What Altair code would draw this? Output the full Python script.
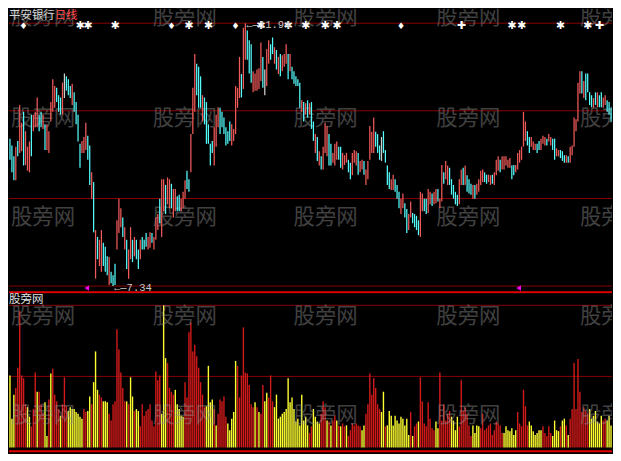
import altair as alt
import pandas as pd

stock_name = "平安银行"
period_name = "日线"
indicator_name = "股旁网"
watermark_text = "股旁网"

# daily candles: high / low prices, direction (r = up, c = down, w = flat)
high = [
    9.92, 9.80, 9.61, 9.78, 9.88, 10.51, 10.20, 10.39, 10.05, 9.78,
    9.87, 10.34, 10.34, 10.39, 10.64, 10.34, 10.39, 10.34, 10.17, 10.17,
    10.05, 10.56, 10.96, 10.84, 10.81, 10.68, 10.64, 10.90, 11.06, 11.01,
    10.96, 10.84, 10.88, 10.73, 10.56, 10.34, 9.83, 9.88, 9.95, 10.20,
    9.97, 9.80, 9.33, 9.16, 8.32, 8.20, 8.15, 8.32, 8.10, 8.03,
    7.86, 7.85, 7.59, 7.53, 7.73, 8.49, 8.87, 8.70, 8.54, 8.37,
    8.15, 7.98, 8.37, 8.15, 8.20, 8.15, 7.98, 8.15, 8.20, 8.15,
    8.27, 8.20, 8.28, 8.27, 8.20, 8.54, 8.60, 8.87, 9.21, 9.21,
    9.11, 9.24, 9.21, 9.13, 9.04, 9.04, 8.91, 8.94, 8.87, 8.99,
    9.19, 9.36, 9.21, 10.00, 10.81, 11.40, 11.23, 11.18, 11.01, 10.68,
    10.64, 10.56, 10.17, 9.83, 9.88, 10.12, 10.34, 10.47, 10.46, 10.39,
    10.29, 10.12, 10.05, 10.22, 10.17, 10.09, 10.84, 10.81, 11.35, 11.05,
    11.86, 11.94, 11.81, 11.64, 11.57, 11.10, 11.06, 11.13, 11.15, 11.60,
    11.35, 11.13, 11.49, 11.64, 11.57, 11.69, 11.52, 11.47, 11.35, 11.40,
    11.38, 11.40, 11.57, 11.40, 11.40, 11.18, 11.10, 11.01, 10.96, 10.90,
    10.59, 10.56, 10.54, 10.59, 10.54, 10.56, 10.22, 10.00, 9.95, 9.70,
    9.61, 9.78, 10.20, 10.14, 10.00, 9.83, 9.67, 9.83, 9.87, 9.78,
    9.78, 9.67, 9.63, 9.67, 9.55, 9.50, 9.67, 9.72, 9.70, 9.67,
    9.53, 9.55, 9.53, 9.38, 9.53, 10.14, 10.04, 10.29, 10.04, 10.00,
    9.80, 9.95, 10.05, 9.72, 9.45, 9.33, 9.21, 9.29, 9.21, 9.11,
    8.99, 8.87, 8.96, 8.79, 8.69, 8.60, 8.82, 8.62, 8.60, 8.57,
    8.49, 8.99, 8.96, 8.87, 8.87, 9.04, 8.99, 8.96, 8.99, 9.04,
    9.04, 8.87, 9.46, 9.33, 9.53, 9.45, 9.41, 9.21, 9.11, 8.99,
    8.94, 9.21, 9.38, 9.41, 9.45, 9.28, 9.21, 9.13, 9.11, 9.11,
    9.13, 9.21, 9.36, 9.38, 9.33, 9.29, 9.29, 9.28, 9.29, 9.33,
    9.55, 9.61, 9.55, 9.61, 9.61, 9.61, 9.55, 9.58, 9.45, 9.46,
    9.46, 9.67, 9.72, 9.78, 10.39, 10.22, 10.05, 9.95, 9.95, 9.87,
    9.83, 9.83, 9.88, 9.92, 9.97, 9.95, 9.92, 10.00, 9.95, 9.92,
    9.92, 9.75, 9.72, 9.72, 9.70, 9.63, 9.63, 9.61, 9.78, 9.80,
    10.29, 10.26, 10.90, 11.10, 11.10, 10.93, 11.06, 11.06, 10.73, 10.68,
    10.63, 10.73, 10.73, 10.68, 10.73, 10.64, 10.68, 10.59, 10.56, 10.46,
]
low = [
    9.55, 9.33, 9.19, 9.19, 9.61, 9.67, 9.70, 9.45, 9.46, 9.36,
    9.33, 9.61, 10.05, 10.12, 10.12, 10.05, 10.12, 10.09, 9.72, 9.72,
    9.67, 10.22, 10.39, 10.46, 10.56, 10.39, 10.34, 10.34, 10.63, 10.76,
    10.68, 10.63, 10.51, 10.39, 10.17, 9.87, 9.41, 9.67, 9.67, 9.72,
    9.55, 9.11, 8.87, 8.28, 7.47, 7.81, 7.69, 7.59, 7.69, 7.59,
    7.53, 7.36, 7.39, 7.34, 7.36, 7.98, 8.27, 8.37, 8.20, 7.98,
    7.64, 7.47, 7.81, 7.76, 7.86, 7.81, 7.64, 7.81, 7.98, 7.98,
    8.03, 7.98, 8.01, 8.10, 7.98, 8.15, 8.32, 8.44, 8.20, 8.65,
    8.60, 8.77, 8.70, 8.70, 8.54, 8.65, 8.65, 8.65, 8.65, 8.70,
    8.87, 9.04, 8.99, 9.33, 10.00, 10.39, 10.68, 10.46, 10.46, 10.22,
    10.17, 9.83, 9.83, 9.45, 9.67, 9.45, 9.78, 10.12, 10.00, 10.12,
    10.00, 9.80, 9.83, 9.88, 9.80, 9.88, 10.00, 10.46, 10.63, 10.64,
    10.79, 11.30, 11.30, 11.06, 10.90, 10.73, 10.76, 10.76, 10.79, 10.93,
    10.81, 10.68, 10.84, 11.23, 11.30, 11.40, 11.23, 11.13, 11.05, 11.01,
    11.10, 11.18, 11.23, 10.96, 11.10, 10.96, 10.88, 10.84, 10.84, 10.46,
    10.39, 10.22, 10.34, 10.29, 10.34, 10.09, 9.88, 9.67, 9.53, 9.45,
    9.38, 9.38, 9.67, 9.61, 9.45, 9.45, 9.50, 9.45, 9.55, 9.55,
    9.41, 9.38, 9.46, 9.50, 9.33, 9.21, 9.28, 9.50, 9.45, 9.29,
    9.33, 9.38, 9.29, 9.11, 9.21, 9.55, 9.67, 9.67, 9.78, 9.67,
    9.55, 9.53, 9.67, 9.50, 9.11, 9.04, 9.02, 9.02, 8.99, 8.87,
    8.70, 8.60, 8.70, 8.54, 8.27, 8.32, 8.54, 8.44, 8.37, 8.32,
    8.23, 8.20, 8.65, 8.65, 8.60, 8.62, 8.77, 8.74, 8.77, 8.79,
    8.82, 8.70, 8.82, 9.13, 9.21, 9.11, 9.11, 8.94, 8.87, 8.77,
    8.74, 8.77, 9.11, 9.11, 9.11, 8.99, 8.96, 8.94, 8.87, 8.87,
    8.94, 8.99, 9.11, 9.16, 9.16, 9.13, 9.16, 9.11, 9.13, 9.11,
    9.28, 9.36, 9.33, 9.38, 9.38, 9.45, 9.41, 9.41, 9.21, 9.28,
    9.33, 9.38, 9.50, 9.55, 9.78, 9.88, 9.80, 9.67, 9.78, 9.72,
    9.72, 9.67, 9.72, 9.72, 9.83, 9.80, 9.80, 9.87, 9.80, 9.72,
    9.55, 9.61, 9.61, 9.58, 9.53, 9.50, 9.50, 9.50, 9.50, 9.63,
    9.78, 10.05, 10.22, 10.71, 10.71, 10.63, 10.59, 10.73, 10.51, 10.47,
    10.46, 10.51, 10.47, 10.47, 10.47, 10.46, 10.51, 10.39, 10.34, 10.22,
]
candle_dir = list(
    "cccrcrrcrr" "rcrrrccrcr" "rrrrcccrwc" "ccrccccrrr" "ccrcrcrrcc"
    "crcccrrrcr" "crrcrccrcc" "crrcrrrcrr" "crrcrrccrr" "rccrrrcccr"
    "cccccrrrcc" "ccccrrrrrc" "rrcccrrrrr" "cwrrccrcrc" "rrrcrccccc"
    "rcrcrccrcr" "crrrccrrrc" "crrrccrrrc" "rrcrrrrrcc" "cwccccrrcc"
    "crrccrrccc" "crrccrrcrr" "crrcrrcccc" "crrcrcccrc" "rrrrccrrcr"
    "rrcrrrrrcc" "rrrrrrccrr" "rccrrrcrrc" "crrcccrcrr" "rrrrcrcccc"
    "rcrccrrccc"
)

# indicator volume bars and their type (r = red, y = yellow)
volume = [
    75, 30, 55, 62, 83, 142, 75, 72, 45, 42,
    32, 22, 40, 78, 58, 58, 45, 35, 47, 12,
    50, 77, 82, 55, 48, 40, 33, 45, 73, 43,
    38, 42, 40, 40, 37, 35, 32, 30, 40, 37,
    38, 53, 45, 68, 100, 60, 55, 52, 48, 48,
    47, 35, 28, 45, 48, 123, 102, 78, 62, 48,
    48, 45, 73, 53, 38, 40, 38, 22, 45, 33,
    38, 40, 45, 28, 22, 79, 70, 75, 35, 148,
    93, 88, 62, 58, 55, 60, 45, 40, 33, 32,
    68, 52, 120, 130, 100, 107, 95, 83, 68, 55,
    42, 43, 85, 47, 50, 40, 23, 35, 50, 48,
    53, 32, 25, 18, 30, 37, 90, 85, 52, 75,
    125, 78, 77, 65, 45, 42, 47, 42, 37, 35,
    65, 48, 57, 52, 75, 48, 42, 55, 30, 32,
    35, 37, 40, 72, 47, 52, 40, 27, 30, 23,
    55, 28, 32, 23, 15, 22, 40, 32, 27, 25,
    35, 48, 42, 28, 27, 23, 28, 33, 28, 23,
    22, 25, 22, 23, 12, 18, 25, 23, 25, 23,
    22, 18, 23, 35, 45, 77, 55, 72, 62, 45,
    40, 37, 58, 22, 23, 38, 33, 23, 33, 28,
    25, 32, 30, 23, 30, 13, 37, 12, 22, 25,
    27, 73, 48, 25, 22, 47, 30, 20, 18, 27,
    20, 78, 28, 45, 28, 35, 38, 32, 28, 18,
    32, 22, 70, 38, 42, 35, 23, 12, 23, 15,
    23, 22, 20, 35, 18, 20, 23, 25, 13, 18,
    27, 25, 23, 15, 15, 22, 18, 17, 20, 13,
    18, 37, 25, 22, 60, 43, 23, 27, 23, 17,
    13, 15, 18, 18, 22, 15, 12, 22, 15, 12,
    28, 18, 17, 22, 28, 30, 23, 13, 30, 40,
    88, 40, 92, 58, 37, 42, 38, 35, 40, 30,
    33, 38, 27, 25, 33, 28, 30, 28, 33, 23,
]
vol_type = list(
    "yyyrrrrrry" "yrrryrrryy" "ryrrrryrrr" "yyyyyyyyrr" "yyryyyrryy"
    "yrrrrrrrrr" "yryyryyrrr" "rrrrrrrryy" "yrrrryyyyy" "rrrrrrrrrr"
    "ryyyyryrrr" "rryyyyyrrr" "rrrrrryryr" "ryyrrryyyy" "yyyyyyyyyy"
    "yyyyrryyyy" "rrryryrryr" "yrryrrrrrr" "ryyrrrrrrr" "ryyryyyyyy"
    "yyyyyyryrr" "yrrrrrrrry" "yrrrrrryyy" "yrrrrrrryy" "yyrrrrrrrr"
    "rrrryyyyyy" "yrrrrrryyy" "yyyyrrrrry" "yyyryyryrr" "rrrrrrrryy"
    "yyyyyrryyy"
)

# signal row along the top
signal_bar = [7, 36, 40, 54, 83, 92, 102, 116, 129, 143, 152, 162, 168, 201, 232, 258, 263, 283, 297, 303]
signal_kind = list("d***d**d*****d+****+")

peak_bar, peak_price = 121, 11.94
trough_bar, trough_price = 53, 7.34
marker_bar = [39.5, 261.5]
marker_price = 7.305
grid_prices = [7.34, 8.873, 10.407, 11.94]
divider_price = 7.234
vol_grid = [74, 148]
vol_floor = -4

N = len(high)
W, HP, HV = 605, 286, 159
SX, SY = 605 / 621, 445 / 461

kdf = pd.DataFrame({"i": list(range(N)), "high": high, "low": low, "dir": candle_dir})
vdf = pd.DataFrame({"i": list(range(N)), "vol": volume, "base": [0] * N, "vt": vol_type})
sdf = pd.DataFrame({"i": signal_bar, "k": signal_kind,
                    "g": [{"*": "✱", "d": "♦", "+": "✚"}[k] for k in signal_kind]})

xs = alt.Scale(domain=[-0.5, N - 0.5])
ys = alt.Scale(domain=[7.205, 12.193])
vs = alt.Scale(domain=[-5, 160])
X = alt.X("i:Q", scale=xs, axis=None)

WM_COLS = [2, 148, 293, 440, 588]

# ---------------- price panel ----------------
p_layers = []
p_layers.append(alt.Chart(pd.DataFrame({"p": grid_prices})).mark_rule(color="#8a0000", strokeWidth=1)
                .encode(y=alt.Y("p:Q", scale=ys, axis=None)))
p_layers.append(alt.Chart(pd.DataFrame({"p": [divider_price]})).mark_rule(color="#e00000", strokeWidth=2)
                .encode(y=alt.Y("p:Q", scale=ys, axis=None)))

for col in range(5):
    for row in range(3):
        p_layers.append(alt.Chart(pd.DataFrame({"t": [watermark_text]})).mark_text(
            align="left", baseline="middle", fontSize=21.5, font="Noto Sans CJK SC",
            color="#9a9a9a", opacity=0.42, clip=True)
            .encode(x=alt.value(WM_COLS[col] * SX),
                    y=alt.value([10, 115, 218][row] * SY), text="t:N"))

kcolors = {"r": "#f25a5a", "c": "#54fcfc", "w": "#d0d0d0"}
for k, c in kcolors.items():
    p_layers.append(alt.Chart(kdf).transform_filter(alt.datum.dir == k)
                    .mark_rule(color=c, strokeWidth=1.25)
                    .encode(x=X, y=alt.Y("low:Q", scale=ys, axis=None), y2="high:Q"))

glyph_size = {"*": 11, "d": 9, "+": 11}
for k, s in glyph_size.items():
    p_layers.append(alt.Chart(sdf).transform_filter(alt.datum.k == k)
                    .mark_text(color="white", fontSize=s, font="DejaVu Sans", baseline="middle")
                    .encode(x=X, y=alt.value(18 * SY), text="g:N"))

ldf = pd.DataFrame({"i": [peak_bar, trough_bar], "p": [peak_price, trough_price],
                    "t": ["←—" + f"{peak_price:.2f}", "←—" + f"{trough_price:.2f}"]})
p_layers.append(alt.Chart(ldf).mark_text(align="left", baseline="middle", dx=1, dy=2,
                                         fontSize=10.5, font="Liberation Mono", color="#c8c8c8")
                .encode(x=X, y=alt.Y("p:Q", scale=ys, axis=None), text="t:N"))

p_layers.append(alt.Chart(pd.DataFrame({"i": marker_bar, "p": [marker_price] * 2}))
                .mark_point(shape="triangle-left", filled=True, color="#ff00ff", size=28, opacity=1)
                .encode(x=X, y=alt.Y("p:Q", scale=ys, axis=None)))

p_layers.append(alt.Chart(pd.DataFrame({"t": [stock_name]})).mark_text(
    align="left", baseline="middle", fontSize=11.5, font="Noto Sans CJK SC", color="#d8d8d8")
    .encode(x=alt.value(0), y=alt.value(8 * SY), text="t:N"))
p_layers.append(alt.Chart(pd.DataFrame({"t": [period_name]})).mark_text(
    align="left", baseline="middle", fontSize=11.5, font="Noto Sans CJK SC", color="#ff4848")
    .encode(x=alt.value(47 * SX), y=alt.value(8 * SY), text="t:N"))

price_panel = alt.layer(*p_layers).properties(width=W, height=HP)

# ---------------- volume panel ----------------
v_layers = []
v_layers.append(alt.Chart(pd.DataFrame({"v": vol_grid})).mark_rule(color="#8a0000", strokeWidth=1)
                .encode(y=alt.Y("v:Q", scale=vs, axis=None)))
vcolors = {"r": "#d21a1a", "y": "#ffff30"}
for k, c in vcolors.items():
    v_layers.append(alt.Chart(vdf).transform_filter(alt.datum.vt == k)
                    .mark_rule(color=c, strokeWidth=1.4)
                    .encode(x=X, y=alt.Y("vol:Q", scale=vs, axis=None), y2="base:Q"))
v_layers.append(alt.Chart(pd.DataFrame({"v": [vol_floor]})).mark_rule(color="#e00000", strokeWidth=2)
                .encode(y=alt.Y("v:Q", scale=vs, axis=None)))
for col in range(5):
    for row in range(2):
        v_layers.append(alt.Chart(pd.DataFrame({"t": [watermark_text]})).mark_text(
            align="left", baseline="middle", fontSize=21.5, font="Noto Sans CJK SC",
            color="#9a9a9a", opacity=0.42, clip=True)
            .encode(x=alt.value(WM_COLS[col] * SX),
                    y=alt.value([320 - 296, 423 - 296][row] * SY), text="t:N"))
v_layers.append(alt.Chart(pd.DataFrame({"t": [indicator_name]})).mark_text(
    align="left", baseline="middle", fontSize=11.5, font="Noto Sans CJK SC", color="#e0e0e0")
    .encode(x=alt.value(0), y=alt.value(6), text="t:N"))

volume_panel = alt.layer(*v_layers).properties(width=W, height=HV)

chart = (alt.vconcat(price_panel, volume_panel, spacing=0)
         .properties(padding=0, background="black")
         .configure_view(stroke=None, fill="black")
         .configure_concat(spacing=0))

chart.save("out.html", embed_options={"renderer": "svg", "actions": False})
